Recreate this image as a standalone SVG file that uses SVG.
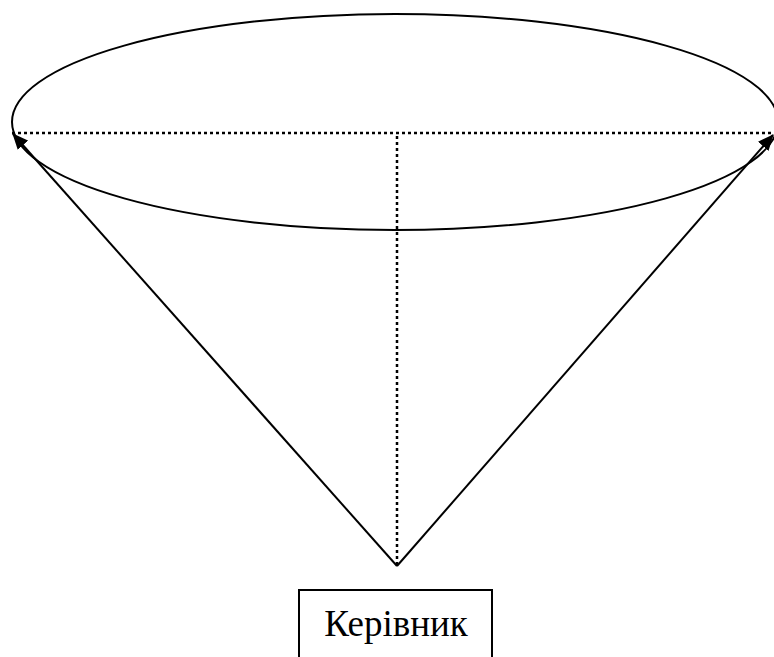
<svg xmlns="http://www.w3.org/2000/svg" width="774" height="657" viewBox="0 0 774 657">
<style>
.solid{fill:none;stroke:#000;stroke-width:2}
.dot{fill:none;stroke:#000;stroke-width:2.5;stroke-dasharray:3 3}
.lbl{font-family:"Liberation Serif","Times New Roman",serif;font-size:37px;fill:#000}
</style>
<defs>
<marker id="ahl" markerWidth="16" markerHeight="14" refX="15" refY="7" orient="auto" markerUnits="userSpaceOnUse" viewBox="0 0 16 14">
<path d="M0,0 L16,7 L0,14 z" fill="#000"/>
</marker>
</defs>
<g id="ellipse"><ellipse class="solid" cx="395" cy="122" rx="383" ry="108"/></g>
<g id="connectors">
<line class="dot" x1="12" y1="133" x2="774" y2="133"/>
<line class="dot" x1="397" y1="136" x2="397" y2="565"/>
<line class="solid" x1="397" y1="566" x2="13" y2="134" marker-end="url(#ahl)"/>
<line class="solid" x1="397" y1="566" x2="773" y2="135" marker-end="url(#ahl)"/>
</g>
<g id="kerivnyk">
<path class="solid" d="M299,657 L299,590 L492,590 L492,657"/>
<text class="lbl" x="396" y="636" text-anchor="middle">Керівник</text>
</g>
</svg>
